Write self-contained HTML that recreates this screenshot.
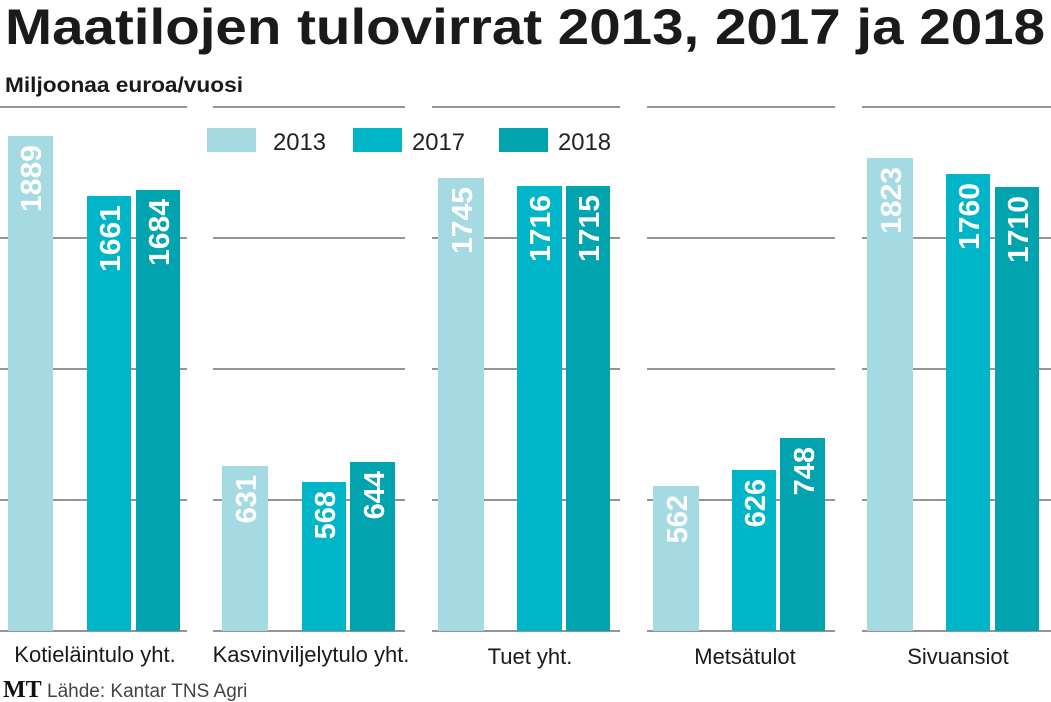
<!DOCTYPE html>
<html><head><meta charset="utf-8"><style>
html,body{margin:0;padding:0;background:#fff;}
svg{display:block;}
</style></head><body>
<svg width="1051" height="702" viewBox="0 0 1051 702" xmlns="http://www.w3.org/2000/svg" font-family="'Liberation Sans', 'DejaVu Sans', sans-serif">
<text x="5" y="44" font-size="50" font-weight="bold" fill="#1a1a1a" textLength="1040" lengthAdjust="spacingAndGlyphs">Maatilojen tulovirrat 2013, 2017 ja 2018</text>
<text x="5" y="92" font-size="21" font-weight="bold" fill="#1a1a1a" textLength="238" lengthAdjust="spacingAndGlyphs">Miljoonaa euroa/vuosi</text>
<g stroke="#555" stroke-width="1.3">
<line x1="0" x2="187" y1="107" y2="107"/><line x1="213" x2="405" y1="107" y2="107"/><line x1="432" x2="620" y1="107" y2="107"/><line x1="647" x2="835" y1="107" y2="107"/><line x1="862" x2="1051" y1="107" y2="107"/>
<line x1="0" x2="187" y1="238" y2="238"/><line x1="213" x2="405" y1="238" y2="238"/><line x1="432" x2="620" y1="238" y2="238"/><line x1="647" x2="835" y1="238" y2="238"/><line x1="862" x2="1051" y1="238" y2="238"/>
<line x1="0" x2="187" y1="369" y2="369"/><line x1="213" x2="405" y1="369" y2="369"/><line x1="432" x2="620" y1="369" y2="369"/><line x1="647" x2="835" y1="369" y2="369"/><line x1="862" x2="1051" y1="369" y2="369"/>
<line x1="0" x2="187" y1="500" y2="500"/><line x1="213" x2="405" y1="500" y2="500"/><line x1="432" x2="620" y1="500" y2="500"/><line x1="647" x2="835" y1="500" y2="500"/><line x1="862" x2="1051" y1="500" y2="500"/>
<line x1="0" x2="187" y1="631" y2="631"/><line x1="213" x2="405" y1="631" y2="631"/><line x1="432" x2="620" y1="631" y2="631"/><line x1="647" x2="835" y1="631" y2="631"/><line x1="862" x2="1051" y1="631" y2="631"/>
</g>
<!-- legend -->
<rect x="207" y="128" width="49" height="24" fill="#a6dae3"/><text x="273" y="150" font-size="24" fill="#222" textLength="53" lengthAdjust="spacingAndGlyphs">2013</text>
<rect x="353" y="128" width="49" height="24" fill="#00b5c8"/><text x="412" y="150" font-size="24" fill="#222" textLength="53" lengthAdjust="spacingAndGlyphs">2017</text>
<rect x="499" y="128" width="49" height="24" fill="#00a3ae"/><text x="558" y="150" font-size="24" fill="#222" textLength="53" lengthAdjust="spacingAndGlyphs">2018</text>
<g font-size="29" font-weight="bold" fill="#fff" text-anchor="end">
<rect x="8" y="136" width="45" height="495" fill="#a6dae3"/><text transform="translate(41,145) rotate(-90)" textLength="67" lengthAdjust="spacingAndGlyphs">1889</text>
<rect x="87" y="196" width="44" height="435" fill="#00b5c8"/><text transform="translate(120,205) rotate(-90)" textLength="67" lengthAdjust="spacingAndGlyphs">1661</text>
<rect x="136" y="190" width="44" height="441" fill="#00a3ae"/><text transform="translate(169,199) rotate(-90)" textLength="67" lengthAdjust="spacingAndGlyphs">1684</text>

<rect x="222" y="466" width="46" height="165" fill="#a6dae3"/><text transform="translate(256,475) rotate(-90)">631</text>
<rect x="302" y="482" width="44" height="149" fill="#00b5c8"/><text transform="translate(335,491) rotate(-90)">568</text>
<rect x="350" y="462" width="45" height="169" fill="#00a3ae"/><text transform="translate(384,471) rotate(-90)">644</text>

<rect x="438" y="178" width="46" height="453" fill="#a6dae3"/><text transform="translate(472,187) rotate(-90)" textLength="67" lengthAdjust="spacingAndGlyphs">1745</text>
<rect x="517" y="186" width="45" height="445" fill="#00b5c8"/><text transform="translate(550,195) rotate(-90)" textLength="67" lengthAdjust="spacingAndGlyphs">1716</text>
<rect x="566" y="186" width="44" height="445" fill="#00a3ae"/><text transform="translate(599,195) rotate(-90)" textLength="67" lengthAdjust="spacingAndGlyphs">1715</text>

<rect x="653" y="486" width="46" height="145" fill="#a6dae3"/><text transform="translate(687,495) rotate(-90)">562</text>
<rect x="732" y="470" width="44" height="161" fill="#00b5c8"/><text transform="translate(765,479) rotate(-90)">626</text>
<rect x="780" y="438" width="45" height="193" fill="#00a3ae"/><text transform="translate(814,447) rotate(-90)">748</text>

<rect x="867" y="158" width="46" height="473" fill="#a6dae3"/><text transform="translate(901,167) rotate(-90)" textLength="67" lengthAdjust="spacingAndGlyphs">1823</text>
<rect x="946" y="174" width="44" height="457" fill="#00b5c8"/><text transform="translate(979,183) rotate(-90)" textLength="67" lengthAdjust="spacingAndGlyphs">1760</text>
<rect x="995" y="187" width="44" height="444" fill="#00a3ae"/><text transform="translate(1028,196) rotate(-90)" textLength="67" lengthAdjust="spacingAndGlyphs">1710</text>
</g>
<g font-size="22" fill="#1a1a1a" text-anchor="middle">
<text x="95" y="662">Kotieläintulo yht.</text>
<text x="311" y="662">Kasvinviljelytulo yht.</text>
<text x="530" y="664">Tuet yht.</text>
<text x="745" y="664">Metsätulot</text>
<text x="958" y="664">Sivuansiot</text>
</g>
<text x="3" y="697" font-family="'Liberation Serif', serif" font-weight="bold" font-size="24" fill="#111">MT</text>
<text x="47" y="697" font-size="19" fill="#444">Lähde: Kantar TNS Agri</text>
</svg>
</body></html>
